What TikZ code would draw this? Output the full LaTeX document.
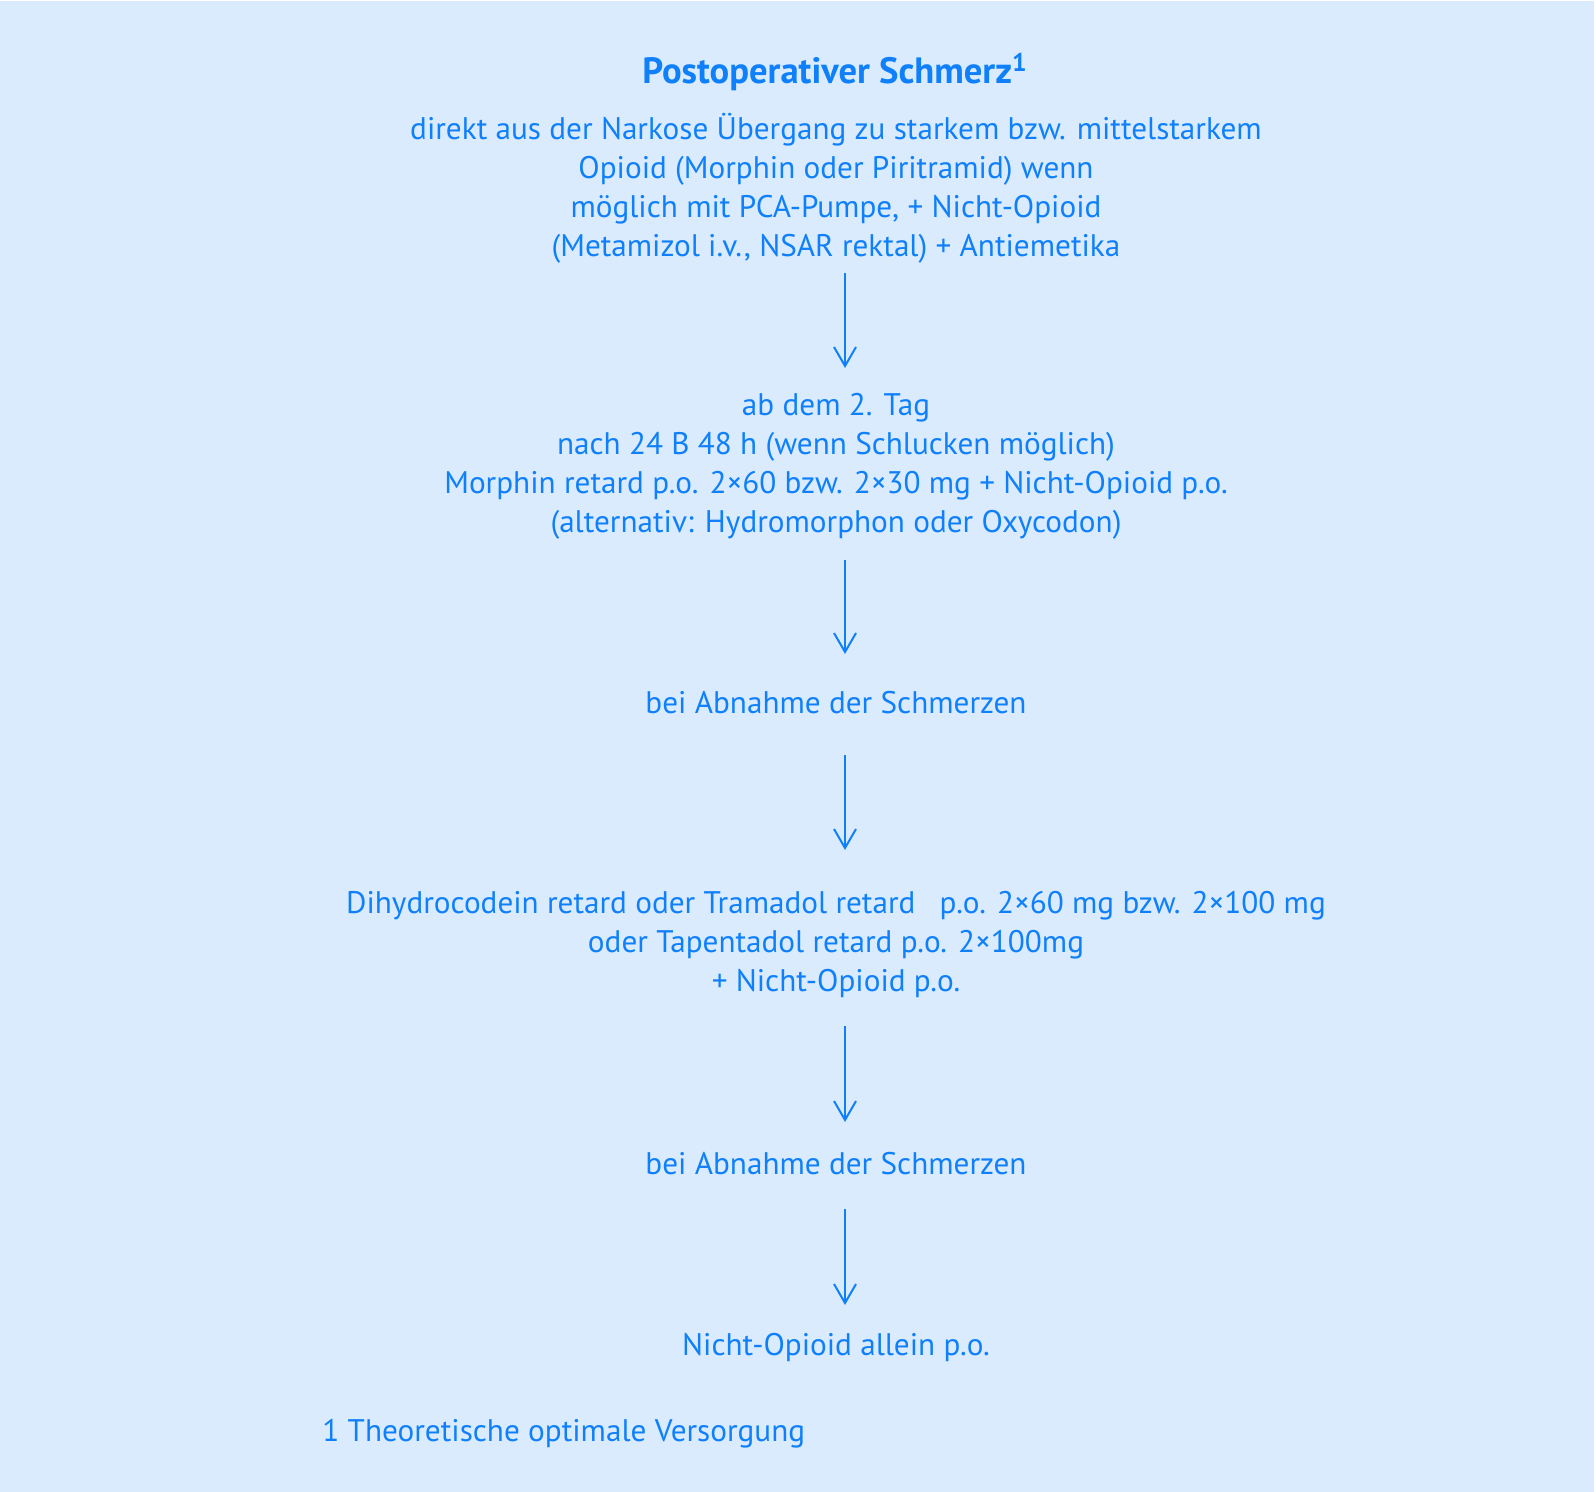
\documentclass[tikz,border=0pt]{standalone}
\usepackage{fontspec}
\setmainfont{PT Sans}
\usetikzlibrary{arrows.meta}
\definecolor{bgblue}{RGB}{218,235,253}
\definecolor{txtblue}{RGB}{15,128,250}
\begin{document}
\begin{tikzpicture}[x=0.5pt,y=-0.5pt,
  txt/.style={text=txtblue,align=center,inner sep=0pt,font=\fontsize{15.6}{19.5}\selectfont},
  ttl/.style={text=txtblue,align=center,inner sep=0pt,font=\fontsize{18.3}{20}\selectfont\bfseries},
  arr/.style={draw=txtblue,line width=1pt,-{Straight Barb[length=9.5pt,width=11pt,line width=1pt]}}]
\fill[white] (0,0) rectangle (1596,1492);
\fill[bgblue] (0,1) rectangle (1594,1492);
\useasboundingbox (0,0) rectangle (1596,1492);
\node[ttl] (title) at (835,72) {Postoperativer Schmerz\textsuperscript{1}};
\node[txt] (b1) at (836,188) {direkt aus der Narkose Übergang zu starkem bzw. mittelstarkem\\Opioid (Morphin oder Piritramid) wenn\\möglich mit PCA-Pumpe, + Nicht-Opioid\\(Metamizol i.v., NSAR rektal) + Antiemetika};
\node[txt] (b2) at (836,466) {ab dem 2. Tag\\nach 24 B 48 h (wenn Schlucken möglich)\\Morphin retard p.o. 2×60 bzw. 2×30 mg + Nicht-Opioid p.o.\\(alternativ: Hydromorphon oder Oxycodon)};
\node[txt] (b3) at (836,703) {bei Abnahme der Schmerzen};
\node[txt] (b4) at (836,945) {Dihydrocodein retard oder Tramadol retard\hspace{8pt} p.o. 2×60 mg bzw. 2×100 mg\\oder Tapentadol retard p.o. 2×100mg\\+ Nicht-Opioid p.o.};
\node[txt] (b5) at (836,1164) {bei Abnahme der Schmerzen};
\node[txt] (b6) at (836,1348) {Nicht-Opioid allein p.o.};
\node[txt,anchor=west] (fn) at (322,1434) {1 Theoretische optimale Versorgung};
\coordinate (a1s) at (845,273); \coordinate (a1e) at (845,368);
\coordinate (a2s) at (845,560); \coordinate (a2e) at (845,654);
\coordinate (a3s) at (845,755); \coordinate (a3e) at (845,850);
\coordinate (a4s) at (845,1026); \coordinate (a4e) at (845,1122);
\coordinate (a5s) at (845,1209); \coordinate (a5e) at (845,1305);
\draw[arr] (a1s) -- (a1e);
\draw[arr] (a2s) -- (a2e);
\draw[arr] (a3s) -- (a3e);
\draw[arr] (a4s) -- (a4e);
\draw[arr] (a5s) -- (a5e);
\end{tikzpicture}
\end{document}
